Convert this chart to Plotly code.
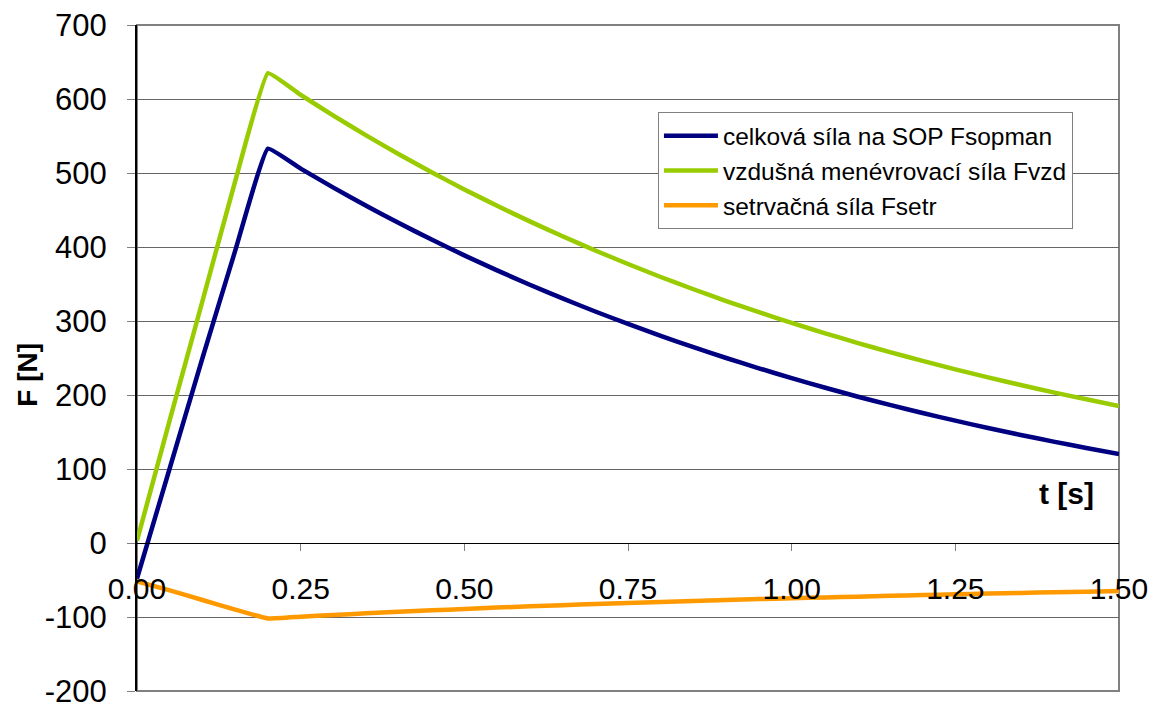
import plotly.graph_objects as go

t = [0.00, 0.05, 0.10, 0.15, 0.20, 0.25, 0.30, 0.35, 0.40, 0.45, 0.50, 0.55, 0.60, 0.65,
     0.70, 0.75, 0.80, 0.85, 0.90, 0.95, 1.00, 1.05, 1.10, 1.15, 1.20, 1.25, 1.30, 1.35,
     1.40, 1.45, 1.50]

f_sopman = [-48, 101, 250, 395, 533, 506.0, 480.3, 455.7, 432.3, 410.0, 388.7, 368.4, 349.0,
            330.5, 312.8, 296.0, 279.9, 264.6, 250.0, 236.1, 222.7, 210.1, 198.0, 186.6,
            175.7, 165.3, 155.4, 146.0, 137.0, 128.4, 120.2]

f_vzd = [3, 166, 327, 489, 635, 605.6, 577.6, 550.8, 525.3, 501.0, 477.8, 455.7, 434.6,
         414.5, 395.3, 377.0, 359.5, 342.9, 327.0, 311.9, 297.4, 283.7, 270.5, 258.0,
         246.1, 234.7, 223.8, 213.5, 203.6, 194.2, 185.2]

f_setr = [-52, -64, -77, -90, -102, -99.6, -97.3, -95.1, -93, -91, -89.1, -87.3, -85.6, -84,
          -82.5, -81, -79.6, -78.3, -77, -75.8, -74.7, -73.6, -72.5, -71.4, -70.4, -69.4,
          -68.4, -67.5, -66.6, -65.8, -65]

names = ["celková síla na SOP Fsopman", "vzdušná menévrovací síla Fvzd", "setrvačná síla Fsetr"]
colors = ["#000080", "#99CC00", "#FF9900"]

x_ticks = [0.0, 0.25, 0.5, 0.75, 1.0, 1.25, 1.5]
y_ticks = [-200, -100, 0, 100, 200, 300, 400, 500, 600, 700]

FONT = "Liberation Sans, Arial, sans-serif"

fig = go.Figure()
for ys, nm, c in zip([f_sopman, f_vzd, f_setr], names, colors):
    fig.add_trace(go.Scatter(x=t, y=ys, mode="lines", name=nm,
                             line=dict(color=c, width=4.5, shape="spline", smoothing=0.3),
                             cliponaxis=False))

fig.update_layout(
    width=1157, height=704,
    margin=dict(l=137, r=38, t=25, b=13),
    paper_bgcolor="white", plot_bgcolor="white",
    font=dict(family=FONT, color="black"),
    showlegend=True,
    legend=dict(x=0.5305, y=0.869, xanchor="left", yanchor="top",
                bgcolor="white", bordercolor="#808080", borderwidth=1,
                font=dict(size=24.5, family=FONT, color="black"),
                itemwidth=54, tracegroupgap=0),
    xaxis=dict(range=[0, 1.5], tickvals=x_ticks,
               ticktext=[f"{v:.2f}" for v in x_ticks],
               anchor="free", position=2/9, automargin=False,
               showline=True, linecolor="black", linewidth=1,
               ticks="outside", ticklen=7, tickcolor="#808080",
               showgrid=False, zeroline=False, ticklabeloverflow="allow",
               tickfont=dict(size=30, family=FONT, color="black"),
               ticklabelstandoff=12),
    yaxis=dict(range=[-200, 700], tickvals=y_ticks,
               ticktext=[str(v) for v in y_ticks], automargin=False,
               showline=True, linecolor="black", linewidth=2,
               ticks="outside", ticklen=8, tickcolor="#808080",
               showgrid=True, gridcolor="#666666", gridwidth=1,
               zeroline=False, ticklabeloverflow="allow",
               tickfont=dict(size=31, family=FONT, color="black"),
               ticklabelstandoff=14),
    shapes=[dict(type="rect", xref="x domain", yref="y domain", x0=0, x1=1, y0=0, y1=1,
                 line=dict(color="#808080", width=2), layer="below")],
    annotations=[
        dict(text="<b>F [N]</b>", xref="paper", yref="paper", x=-0.111, y=0.475,
             xanchor="center", yanchor="middle", textangle=-90, showarrow=False,
             font=dict(size=28, family=FONT, color="black")),
        dict(text="<b>t [s]</b>", xref="paper", yref="paper", x=0.947, y=0.296,
             xanchor="center", yanchor="middle", showarrow=False,
             font=dict(size=30, family=FONT, color="black")),
    ],
)

fig.write_html("out.html", config={"displayModeBar": False},
               post_script="document.body.style.margin='0';document.body.style.overflow='hidden';")
